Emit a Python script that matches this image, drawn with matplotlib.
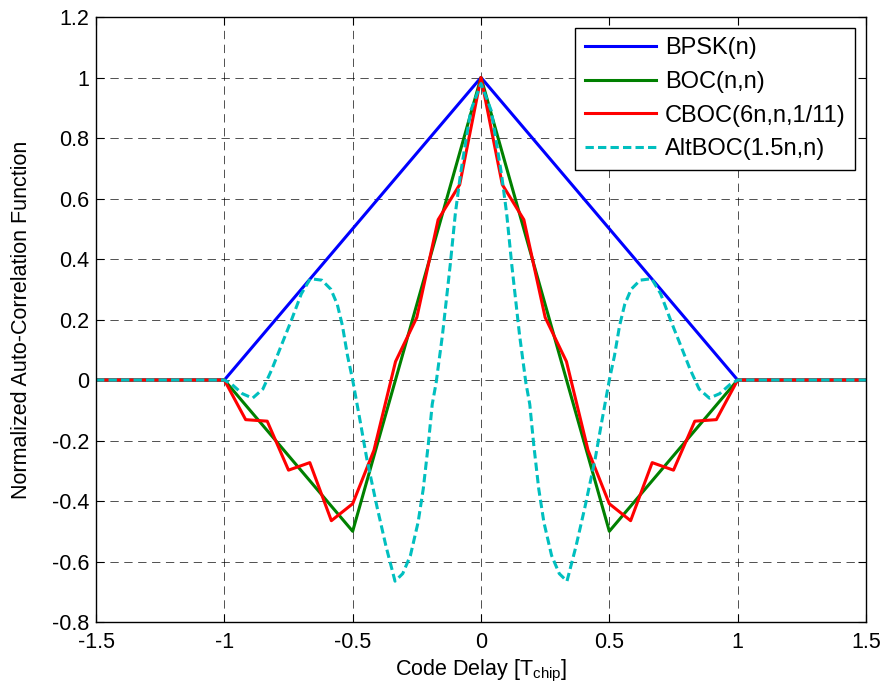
import numpy as np
import matplotlib.pyplot as plt
from matplotlib.ticker import FuncFormatter

plt.rcParams['font.family'] = ['Liberation Sans', 'DejaVu Sans']
plt.rcParams['axes.unicode_minus'] = False
plt.rcParams['lines.scale_dashes'] = False

# BPSK(n) and BOC(n,n) vertices
bpsk_x = [-1.5, -1.0, 0.0, 1.0, 1.5]
bpsk_y = [0.0, 0.0, 1.0, 0.0, 0.0]
boc_x = [-1.5, -1.0, -0.5, 0.0, 0.5, 1.0, 1.5]
boc_y = [0.0, 0.0, -0.5, 1.0, -0.5, 0.0, 0.0]

# CBOC(6n,n,1/11), positive delays (symmetric)
cboc_x = [0.0, 0.083, 0.167, 0.25, 0.333, 0.417, 0.5, 0.583, 0.667, 0.75, 0.833, 0.917, 1.0, 1.5]
cboc_y = [1.0, 0.646, 0.530, 0.207, 0.061, -0.232, -0.409, -0.465, -0.273, -0.298, -0.136, -0.131, 0.0, 0.0]

# AltBOC(1.5n,n), positive delays (symmetric)
alt_x = [0.0, 0.04, 0.08, 0.10, 0.12, 0.15, 0.175, 0.19, 0.205, 0.225, 0.245, 0.275, 0.305,
         0.335, 0.37, 0.405, 0.445, 0.47, 0.50, 0.52, 0.54, 0.56, 0.585, 0.62, 0.665, 0.70,
         0.74, 0.78, 0.815, 0.85, 0.89, 0.93, 0.97, 1.0, 1.5]
alt_y = [0.98, 0.89, 0.68, 0.55, 0.38, 0.15, -0.01, -0.08, -0.21, -0.36, -0.47, -0.58, -0.64,
         -0.665, -0.55, -0.42, -0.26, -0.14, 0.0, 0.08, 0.18, 0.25, 0.30, 0.33, 0.335, 0.285,
         0.195, 0.11, 0.035, -0.03, -0.06, -0.045, -0.015, 0.0, 0.0]


def mirror(x, y):
    x = np.asarray(x)
    y = np.asarray(y)
    return np.concatenate([-x[::-1], x[1:]]), np.concatenate([y[::-1], y[1:]])


fig = plt.figure(figsize=(8.85, 6.94), dpi=100)
ax = fig.add_axes([0.1085, 0.1037, 0.87, 0.8718])

ax.plot(bpsk_x, bpsk_y, color=(0, 0, 1), lw=2.2, label='BPSK(n)')
ax.plot(boc_x, boc_y, color=(0, 0.5, 0), lw=2.2, label='BOC(n,n)')
cx, cy = mirror(cboc_x, cboc_y)
ax.plot(cx, cy, color=(1, 0, 0), lw=2.2, label='CBOC(6n,n,1/11)')
axx, axy = mirror(alt_x, alt_y)
ax.plot(axx, axy, color=(0, 0.75, 0.75), lw=2.2, ls=(0, (6, 3)), label='AltBOC(1.5n,n)')

ax.set_xlim(-1.5, 1.5)
ax.set_ylim(-0.8, 1.2)
ax.set_xticks(np.arange(-1.5, 1.51, 0.5))
ax.set_yticks(np.arange(-0.8, 1.21, 0.2))
fmt = FuncFormatter(lambda v, p: '%g' % (round(v, 2) + 0.0))
ax.xaxis.set_major_formatter(fmt)
ax.yaxis.set_major_formatter(fmt)
ax.tick_params(direction='in', top=True, right=True, length=6, width=0.8, labelsize=15.5)
ax.tick_params(axis='x', pad=7)
ax.tick_params(axis='y', pad=5)
ax.grid(True, color='k', lw=0.6, ls=(0, (6, 4)), alpha=0.8)
ax.set_axisbelow(True)
for s in ax.spines.values():
    s.set_linewidth(1.0)

ax.set_xlabel('Code Delay [T$_{\\mathregular{chip}}$]', fontsize=15.5, labelpad=4)
ax.set_ylabel('Normalized Auto-Correlation Function', fontsize=15.5, labelpad=14)

leg = ax.legend(loc='upper right', fontsize=17, fancybox=False, edgecolor='k',
                framealpha=1, handlelength=3.0, handletextpad=0.4, labelspacing=0.5,
                borderaxespad=0.45, borderpad=0.4)
leg.get_frame().set_linewidth(1.0)

fig.savefig('out.png', dpi=100)
